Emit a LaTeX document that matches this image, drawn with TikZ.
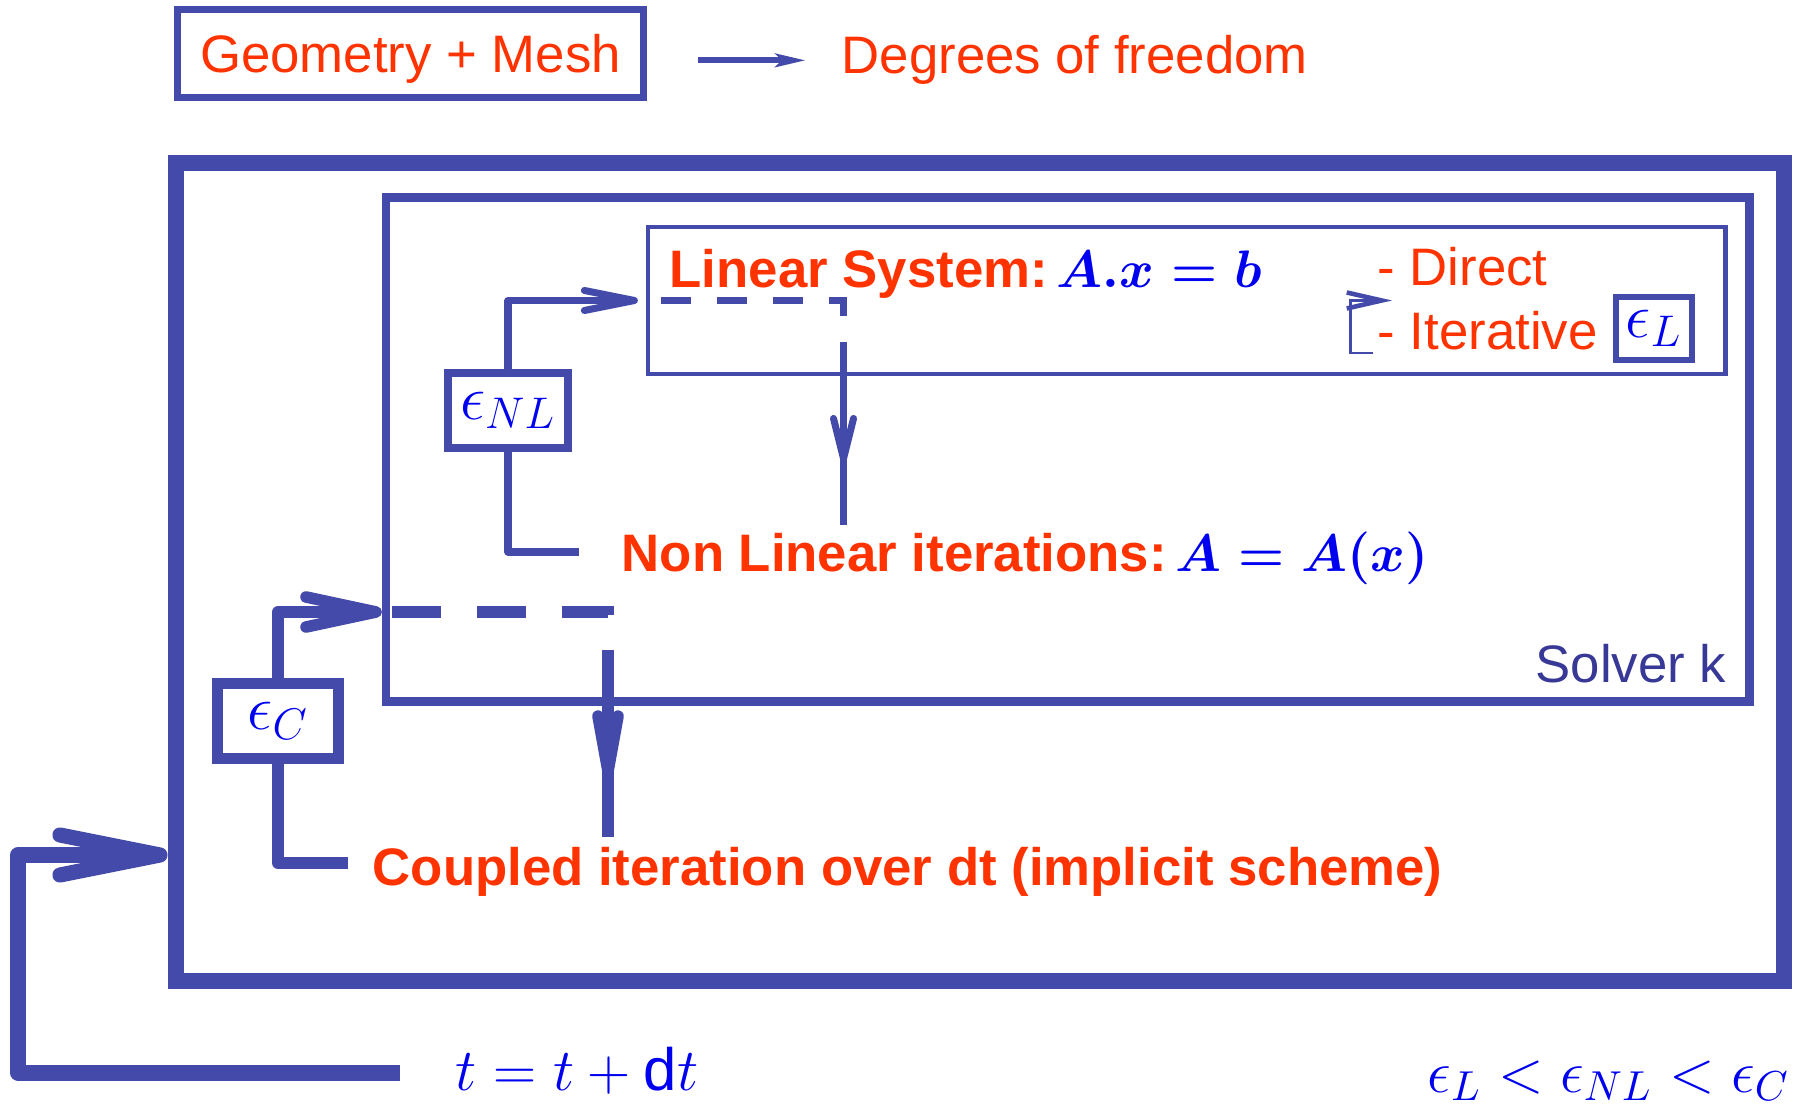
\RequirePackage{fix-cm}
\documentclass[tikz,border=0pt]{standalone}
\usepackage[no-math]{fontspec}
\setmainfont{Liberation Sans}
\usetikzlibrary{arrows.meta,positioning}
\definecolor{lineblue}{RGB}{68,74,170}
\definecolor{textred}{RGB}{255,51,0}
\definecolor{mathblue}{RGB}{0,0,240}
\definecolor{solverblue}{RGB}{56,56,150}

\begin{document}
\begin{tikzpicture}[x=0.01cm, y=-0.01cm, every node/.style={inner sep=0pt},
        txt/.style={anchor=base west, text=textred, font=\fontsize{15pt}{18pt}\selectfont},
        boldtxt/.style={txt, font=\fontsize{15pt}{18pt}\selectfont\bfseries},
        mathtxt/.style={anchor=base west, text=mathblue, font=\fontsize{17pt}{20pt}\selectfont},
        epsbox/.style={draw=lineblue, rectangle, text=mathblue, font=\fontsize{18pt}{21pt}\selectfont, minimum width=1.2cm, minimum height=0.75cm},
        bigline/.style={draw=lineblue, line width=4.3pt, line join=round},
        cline/.style={draw=lineblue, line width=3.3pt, line join=round},
        nlline/.style={draw=lineblue, line width=2pt, line join=round}]
        \path[fill=white] (0,0) rectangle (1794,1104);

        % legend
        \node[draw=lineblue, line width=2pt, minimum width=4.66cm, minimum height=0.88cm, txt, anchor=center, text depth=0pt] (geom) at (410.5,53.5) {Geometry + Mesh};
        \node[txt] (dof) at (841,74) {Degrees of freedom};
        \draw[lineblue, line width=1.7pt, -{Stealth[length=3mm, width=1.3mm, inset=0.6mm]}] ([xshift=5.1mm]geom.east |- dof.west) -- ([xshift=-3.5mm]dof.west);

        % boxes
        \node[draw=lineblue, line width=4.55pt, minimum width=16.08cm, minimum height=8.18cm] (outer) at (980,572) {};
        \node[draw=lineblue, line width=2.4pt, minimum width=13.625cm, minimum height=5.04cm] (solver) at (1067.75,449.5) {};
        \node[draw=lineblue, line width=1.3pt, minimum width=10.765cm, minimum height=1.47cm] (linbox) at (1186.75,300.5) {};

        % texts
        \node[txt, text=solverblue, anchor=base east] (solverk) at (1727,683) {Solver k};
        \node[boldtxt] (linsys) at (669,288) {Linear System:\,\textcolor{mathblue}{\boldmath$A.x = b$}};
        \node[txt] (direct) at (1377,286) {- Direct};
        \node[txt] (iter) at (1377,350) {- Iterative};
        \node[epsbox, line width=1.7pt, minimum width=0.76cm, minimum height=0.63cm] (epsl) at (1654,328.5) {$\epsilon_L$};
        \node[epsbox, line width=2.1pt] (epsnl) at (508,410.5) {$\epsilon_{NL}$};
        \node[epsbox, line width=3.2pt, minimum width=1.21cm] (epsc) at (278,721) {$\epsilon_C$};
        \node[boldtxt] (nonlin) at (621,572) {Non Linear iterations:\,\textcolor{mathblue}{\boldmath$A = A(x)$}};
        \node[boldtxt] (coupled) at (372,886) {Coupled iteration over dt (implicit scheme)};
        \node[mathtxt] (tstep) at (455,1090) {$t = t + \mbox{d}t$};
        \node[mathtxt] (order) at (1427,1092) {$\epsilon_L < \epsilon_{NL} < \epsilon_C$};

        % free ends and corners
        \coordinate (lscorner) at (843.5,345);
        \coordinate (lsarrow) at (843.5,462);
        \coordinate (nlend) at (843.5,525);
        \coordinate (nlfree) at (579,552);
        \coordinate (cin) at (solver.west |- 0,612);
        \coordinate (cdown) at (608,650);
        \coordinate (carrow) at (608,777);
        \coordinate (cend) at (608,837);
        \coordinate (cfree) at (348,863);
        \coordinate (tfree) at (400,1073);
        \coordinate (tcorner) at (18,855);
        \coordinate (bkfree) at (1373,353);
        \coordinate (bktip) at (1392,300.5);

        % non linear loop
        \draw[nlline, -{Straight Barb[length=5mm, width=2mm, round]}] (epsnl.north) |- ([xshift=-0.8mm]linbox.west);
        \draw[nlline, dash pattern=on 3mm off 2.6mm, line join=miter] ([xshift=1.5mm]linbox.west) -| (lscorner);
        \draw[nlline] (lscorner) -- (nlend);
        \draw[nlline, -{Straight Barb[length=4mm, width=2mm, round]}] (lscorner) -- (lsarrow);
        \draw[nlline] (epsnl.south) |- (nlfree);

        % coupled loop
        \draw[cline, -{Straight Barb[length=7mm, width=3mm, round]}] (epsc.north) |- (cin);
        \draw[cline, dash pattern=on 4.9mm off 3.6mm, line join=miter] ([xshift=1mm]cin) -| (cdown);
        \draw[cline] (cdown) -- (cend);
        \draw[cline, -{Straight Barb[length=5.5mm, width=2mm, round]}] (cdown) -- (carrow);
        \draw[cline] (epsc.south) |- (cfree);

        % time loop
        \draw[bigline, -{Straight Barb[length=10mm, width=4mm, round]}] (tfree) -| (tcorner) -- (outer.west |- tcorner);

        % iterative solver bracket
        \draw[lineblue, line width=0.7pt, -{Straight Barb[length=3.5mm, width=1.6mm, line width=1.3pt]}] (bkfree) -- ++(-22.5,0) |- (bktip);
    \end{tikzpicture}
\end{document}
